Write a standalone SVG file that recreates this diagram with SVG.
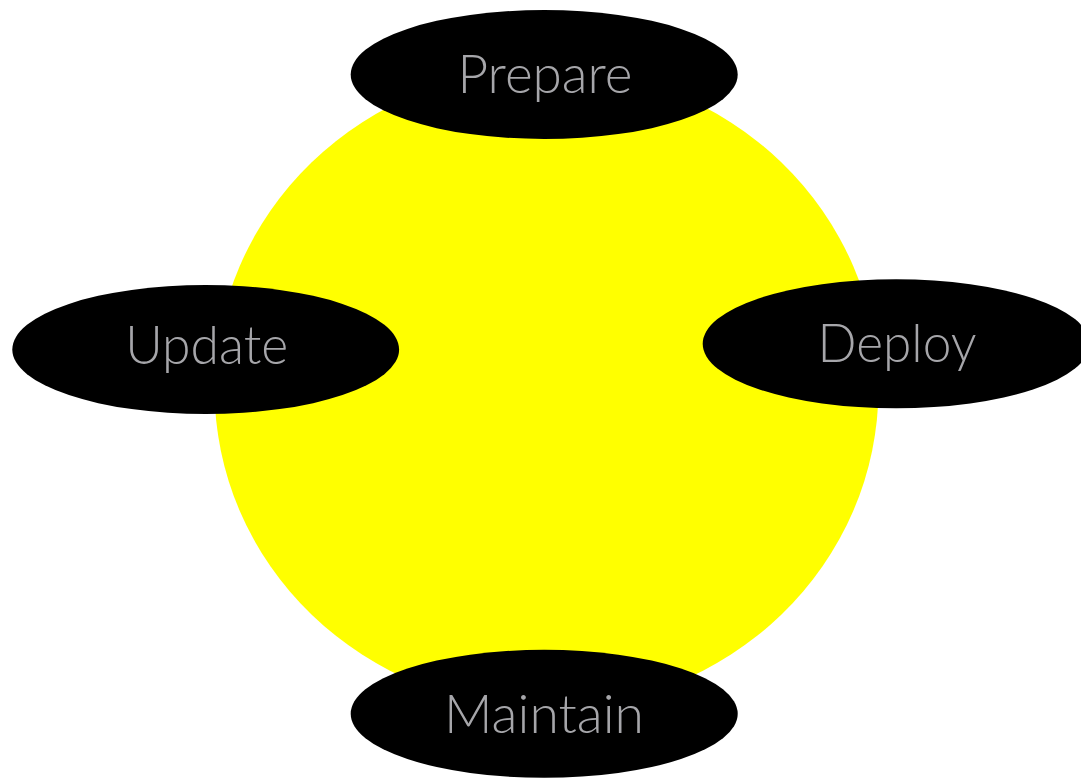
<svg xmlns="http://www.w3.org/2000/svg" width="1081" height="778" viewBox="0 0 1081 778">
  <style>
    .node ellipse { fill: #000000; }
    .node text { fill: #a6a6aa; font-family: Lato, "Liberation Sans", "DejaVu Sans", sans-serif; font-weight: 300; font-size: 53px; text-anchor: middle; }
    .hub { fill: #ffff00; }
  </style>
  <rect width="1081" height="778" fill="#ffffff"/>
  <g id="hub">
    <ellipse class="hub" cx="546.5" cy="388.5" rx="332" ry="320"/>
  </g>
  <g id="connectors"></g>
  <g id="node-prepare" class="node">
    <ellipse cx="544.2" cy="74.5" rx="193.5" ry="64.5"/>
    <text x="545" y="92.7" textLength="175" lengthAdjust="spacingAndGlyphs">Prepare</text>
  </g>
  <g id="node-update" class="node">
    <ellipse cx="205.7" cy="349.5" rx="193.4" ry="64.5"/>
    <text x="206.7" y="364.3" textLength="163" lengthAdjust="spacingAndGlyphs">Update</text>
  </g>
  <g id="node-deploy" class="node">
    <ellipse cx="896.2" cy="343.8" rx="193.5" ry="64.5"/>
    <text x="897" y="361.7" textLength="159" lengthAdjust="spacingAndGlyphs">Deploy</text>
  </g>
  <g id="node-maintain" class="node">
    <ellipse cx="544.2" cy="713.8" rx="193.5" ry="64"/>
    <text x="544" y="733.3" textLength="200" lengthAdjust="spacingAndGlyphs">Maintain</text>
  </g>
</svg>
